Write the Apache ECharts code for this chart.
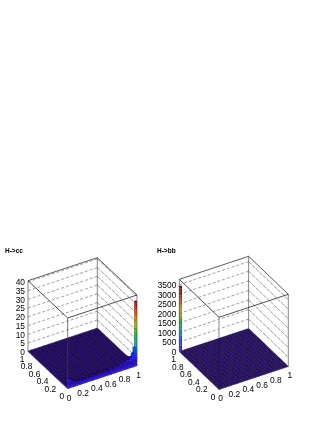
<!DOCTYPE html>
<html>
<head>
<meta charset="utf-8">
<style>html,body{margin:0;padding:0;background:#fff}#c{width:327px;height:423px}</style>
<script src="https://cdn.jsdelivr.net/npm/echarts@6/dist/echarts.min.js"></script>
</head>
<body>
<div id="c"></div>
<script>
var binCount = 40;
var xTicks = [0, 0.2, 0.4, 0.6, 0.8, 1];
var yTicks = [0, 0.2, 0.4, 0.6, 0.8, 1];
var ccZTicks = [0, 5, 10, 15, 20, 25, 30, 35, 40];
var bbZTicks = [0, 500, 1000, 1500, 2000, 2500, 3000, 3500];
var ccFrontRow = [5.4,5.0,4.2,3.4,2.8,3.2,2.6,3.0,2.4,2.8,2.6,3.2,2.8,2.4,3.4,3.0,2.6,3.6,3.0,3.2,2.8,3.8,3.2,3.0,4.0,3.4,3.2,4.4,3.6,3.8,4.6,4.0,4.8,4.4,5.4,5.0,6.2,7.8,11,37];
var ccSecondRow = [1.6,1.4,1.2,1.0,1.0,1.1,0.9,1.0,0.9,1.0,1.0,1.1,1.0,0.9,1.2,1.0,1.0,1.2,1.1,1.1,1.0,1.3,1.1,1.1,1.4,1.2,1.2,1.5,1.3,1.4,1.6,1.5,1.8,1.7,2.0,2.2,2.6,3.2,4.0,9.5];
var ccRightColumn = [37,9.5,6.5,4.6,3.2,2.2,1.6,1.2,0.9,0.7];
var ccFloorValue = 0.4;
var bbFloorValue = 15;
var bbCornerValue = 3420;
var palette = ['#2c18d0','#2c10a8','#2a20f0','#1a30f0','#0050e0','#0070c0','#008c98','#009a70','#00a048','#10a020','#50a010','#8c9a08','#a89008','#b87808','#c05808','#c03c08','#b82008','#a01008','#880808','#700808'];

var panels = [
  {
    title: 'H->cc',
    O: [67.7, 389], X: [69.3, -23], Y: [-39.7, -37.3], zTop: -71, zMax: 40.7,
    zTicks: ccZTicks, levelStep: 2, frontOver: true,
    value: function (i, j) {
      if (j === 0) return ccFrontRow[i];
      if (i === binCount - 1 && j < ccRightColumn.length) return ccRightColumn[j];
      if (j === 1) return ccSecondRow[i];
      return ccFloorValue;
    }
  },
  {
    title: 'H->bb',
    O: [219, 389.7], X: [69.3, -23], Y: [-39.7, -38], zTop: -72.4, zMax: 3780,
    zTicks: bbZTicks, levelStep: 175, frontOver: false,
    value: function (i, j) {
      if (i === 0 && j === binCount - 1) return bbCornerValue;
      return bbFloorValue;
    }
  }
];

function project(p, x, y, z) {
  return [
    p.O[0] + x * p.X[0] + y * p.Y[0],
    p.O[1] + x * p.X[1] + y * p.Y[1] + z / p.zMax * p.zTop
  ];
}
function shade(hex, f) {
  var n = parseInt(hex.slice(1), 16);
  var r = Math.min(255, Math.round((n >> 16) * f));
  var g = Math.min(255, Math.round(((n >> 8) & 255) * f));
  var b = Math.min(255, Math.round((n & 255) * f));
  return 'rgb(' + r + ',' + g + ',' + b + ')';
}
function bandOf(p, v) {
  return Math.max(0, Math.min(palette.length - 1, Math.floor(v / p.levelStep)));
}

function cellsFor(p) {
  var out = [];
  for (var s = 2 * (binCount - 1); s >= 0; s--) {
    for (var i = binCount - 1; i >= 0; i--) {
      var j = s - i;
      if (j >= 0 && j < binCount) out.push([i, j, p.value(i, j)]);
    }
  }
  return out;
}

function barRenderer(p) {
  return function (params, api) {
    var i = api.value(0), j = api.value(1), v = api.value(2);
    var x0 = i / binCount, x1 = (i + 1) / binCount;
    var y0 = j / binCount, y1 = (j + 1) / binCount;
    var kids = [];
    function poly(pts, fill, stroke) {
      kids.push({
        type: 'polygon',
        shape: { points: pts.map(function (q) { return api.coord(q); }) },
        style: { fill: fill, stroke: stroke || null, lineWidth: stroke ? 0.3 : 0 }
      });
    }
    var zBottom = 0;
    while (zBottom < v) {
      var band = bandOf(p, zBottom);
      var zNext = Math.min(v, (band + 1) * p.levelStep);
      if (zNext <= zBottom) zNext = v;
      var c = palette[band];
      poly([project(p, x0, y0, zBottom), project(p, x0, y1, zBottom), project(p, x0, y1, zNext), project(p, x0, y0, zNext)], shade(c, 0.72));
      poly([project(p, x0, y0, zBottom), project(p, x1, y0, zBottom), project(p, x1, y0, zNext), project(p, x0, y0, zNext)], shade(c, 1));
      zBottom = zNext;
    }
    poly([project(p, x0, y0, v), project(p, x1, y0, v), project(p, x1, y1, v), project(p, x0, y1, v)],
      v < p.levelStep * 3 ? '#301080' : shade(palette[bandOf(p, v)], 0.9), 'rgba(0,0,0,0.8)');
    return { type: 'group', children: kids };
  };
}

function lineItem(a, b, color, width, dash) {
  return {
    type: 'line',
    shape: { x1: a[0], y1: a[1], x2: b[0], y2: b[1] },
    style: { stroke: color, lineWidth: width, lineDash: dash || null }
  };
}

function frameBack(p) {
  return function (params, api) {
    var kids = [];
    function L(a, b, c, w, d) { kids.push(lineItem(api.coord(a), api.coord(b), c, w, d)); }
    var zm = p.zMax;
    p.zTicks.forEach(function (t) {
      if (t === 0) return;
      L(project(p, 0, 1, t), project(p, 1, 1, t), '#808080', 0.75, [3, 2]);
      L(project(p, 1, 1, t), project(p, 1, 0, t), '#909090', 0.9, [4, 1]);
    });
    L(project(p, 0, 1, 0), project(p, 0, 1, zm), '#555', 0.7);
    L(project(p, 1, 1, 0), project(p, 1, 1, zm), '#555', 0.7);
    L(project(p, 1, 0, 0), project(p, 1, 0, zm), '#777', 0.9);
    if (!p.frontOver) L(project(p, 0, 0, 0), project(p, 0, 0, zm), '#aaa', 1.4);
    return { type: 'group', children: kids };
  };
}
function frameFront(p) {
  return function (params, api) {
    var kids = [];
    function L(a, b, c, w, d) { kids.push(lineItem(api.coord(a), api.coord(b), c, w, d)); }
    var zm = p.zMax;
    L(project(p, 0, 1, zm), project(p, 1, 1, zm), '#333', 0.8);
    L(project(p, 1, 1, zm), project(p, 1, 0, zm), '#333', 0.8);
    L(project(p, 1, 0, zm), project(p, 0, 0, zm), '#222', 0.8);
    L(project(p, 0, 0, zm), project(p, 0, 1, zm), '#222', 0.8);
    if (p.frontOver) L(project(p, 0, 0, 0), project(p, 0, 0, zm), '#444', 0.7);
    return { type: 'group', children: kids };
  };
}
function labels(p) {
  return function (params, api) {
    var kids = [];
    function T(pt, dx, dy, text, align) {
      var c = api.coord(pt);
      kids.push({
        type: 'text',
        style: {
          x: c[0] + dx, y: c[1] + dy, text: String(text), align: align, verticalAlign: 'middle',
          font: '8.4px "Liberation Sans", Arial, sans-serif', fill: '#000'
        }
      });
    }
    p.zTicks.forEach(function (t) { T(project(p, 0, 1, t), -3, 1, t, 'right'); });
    xTicks.forEach(function (t) { T(project(p, t, 0, 0), 1.5, 9.3, t, 'center'); });
    yTicks.forEach(function (t) { T(project(p, 0, t, 0), -3.5, 8, t, 'right'); });
    return { type: 'group', children: kids };
  };
}

var series = [];
panels.forEach(function (p) {
  var base = { type: 'custom', coordinateSystem: 'cartesian2d', silent: true, clip: false, animation: false };
  series.push(Object.assign({}, base, { data: [[0, 0]], renderItem: frameBack(p) }));
  series.push(Object.assign({}, base, { data: cellsFor(p), renderItem: barRenderer(p), encode: { x: 0, y: 1 }, progressive: 0 }));
  series.push(Object.assign({}, base, { data: [[0, 0]], renderItem: frameFront(p) }));
  series.push(Object.assign({}, base, { data: [[0, 0]], renderItem: labels(p) }));
});

var chart = echarts.init(document.getElementById('c'), null, { renderer: 'canvas', width: 327, height: 423 });
chart.setOption({
  backgroundColor: '#ffffff',
  animation: false,
  title: [
    { text: panels[0].title, left: 5, top: 247.5, padding: 0, textStyle: { fontFamily: 'Liberation Sans', fontSize: 6.5, fontWeight: 'bold', color: '#000' } },
    { text: panels[1].title, left: 157, top: 247.5, padding: 0, textStyle: { fontFamily: 'Liberation Sans', fontSize: 6.5, fontWeight: 'bold', color: '#000' } }
  ],
  grid: { left: 0, right: 0, top: 0, bottom: 0 },
  xAxis: { type: 'value', min: 0, max: 327, show: false },
  yAxis: { type: 'value', min: 0, max: 423, inverse: true, show: false },
  tooltip: { show: false },
  series: series
});
</script>
</body>
</html>
